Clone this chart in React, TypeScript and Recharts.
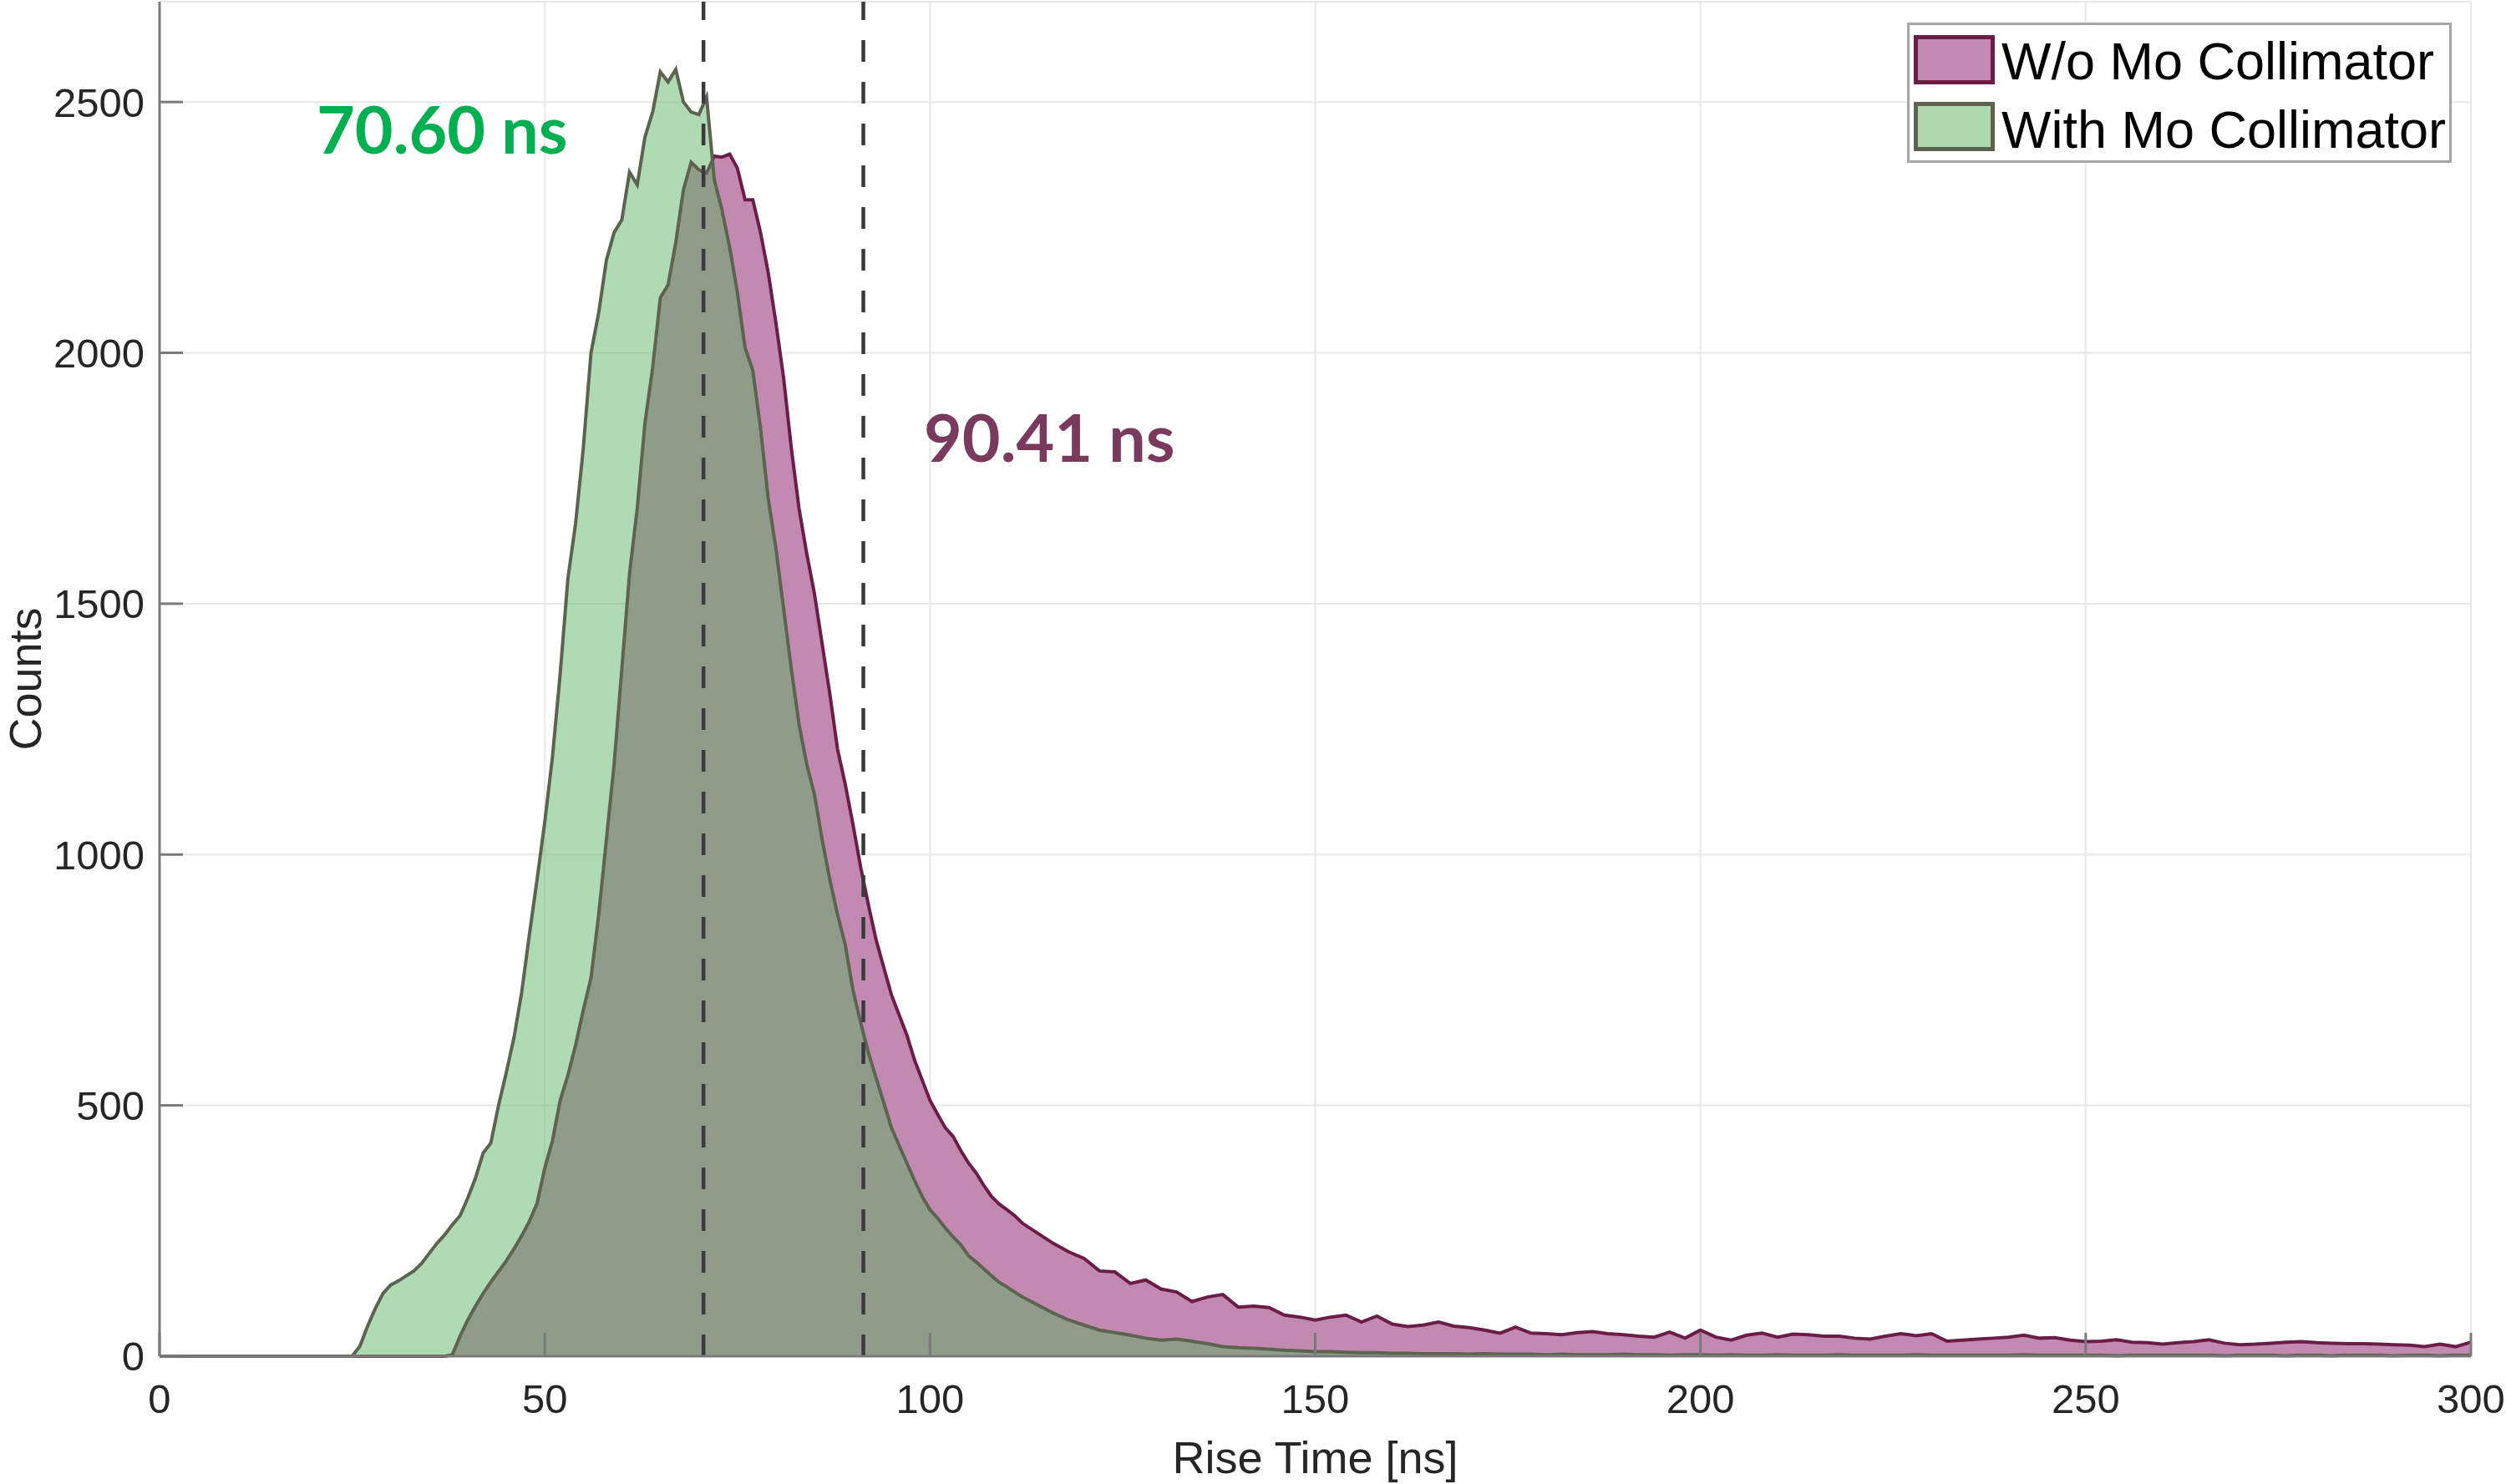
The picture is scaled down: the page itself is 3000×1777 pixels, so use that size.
import { Area, AreaChart, CartesianGrid, Label, Legend, ReferenceLine, XAxis, YAxis } from 'recharts'

// rise time bins [ns]
const riseTime = [
  0, 5, 10, 15, 20, 24, 25, 26, 27, 28,
  29, 30, 31, 32, 33, 34, 35, 36, 37, 38,
  39, 40, 41, 42, 43, 44, 45, 46, 47, 48,
  49, 50, 51, 52, 53, 54, 55, 56, 57, 58,
  59, 60, 61, 62, 63, 64, 65, 66, 67, 68,
  69, 70, 71, 72, 73, 74, 75, 76, 77, 78,
  79, 80, 81, 82, 83, 84, 85, 86, 87, 88,
  89, 90, 91, 92, 93, 94, 95, 96, 97, 98,
  99, 100, 101, 102, 103, 104, 105, 106, 107, 108,
  109, 110, 111, 112, 114, 116, 118, 120, 122, 124,
  126, 128, 130, 132, 134, 136, 138, 140, 142, 144,
  146, 148, 150, 152, 154, 156, 158, 160, 162, 164,
  166, 168, 170, 172, 174, 176, 178, 180, 182, 184,
  186, 188, 190, 192, 194, 196, 198, 200, 202, 204,
  206, 208, 210, 212, 214, 216, 218, 220, 222, 224,
  226, 228, 230, 232, 234, 236, 238, 240, 242, 244,
  246, 248, 250, 252, 254, 256, 258, 260, 262, 264,
  266, 268, 270, 272, 274, 276, 278, 280, 282, 284,
  286, 288, 290, 292, 294, 296, 298, 300,
]

// W/o Mo collimator counts
const withoutMo = [
  0, 0, 0, 0, 0, 0, 0, 0, 0, 0,
  0, 0, 0, 0, 0, 0, 0, 0, 0, 3,
  40, 72, 100, 125, 148, 169, 190, 214, 240, 269,
  305, 375, 430, 510, 560, 620, 690, 754, 880, 1030,
  1180, 1370, 1560, 1690, 1860, 1970, 2110, 2135, 2220, 2325,
  2380, 2365, 2358, 2392, 2390, 2396, 2368, 2305, 2305, 2240,
  2160, 2060, 1950, 1810, 1690, 1600, 1520, 1420, 1320, 1210,
  1140, 1060, 975, 900, 830, 775, 720, 680, 640, 590,
  550, 510, 482, 455, 438, 410, 385, 365, 340, 318,
  303, 292, 280, 265, 245, 225, 208, 195, 170, 168,
  145, 152, 134, 128, 109, 118, 123, 98, 100, 97,
  82, 78, 72, 78, 82, 68, 80, 64, 59, 62,
  68, 60, 57, 52, 46, 58, 46, 45, 43, 47,
  49, 45, 43, 40, 38, 48, 36, 52, 38, 32,
  42, 46, 38, 44, 43, 40, 40, 36, 34, 40,
  45, 41, 45, 30, 32, 34, 36, 38, 42, 36,
  37, 32, 29, 30, 33, 28, 27, 24, 27, 29,
  33, 26, 23, 24, 26, 28, 29, 27, 26, 25,
  25, 24, 23, 22, 19, 24, 19, 28,
]

// With Mo collimator counts
const withMo = [
  0, 0, 0, 0, 0, 0, 0, 20, 60, 95,
  125, 142, 150, 160, 170, 185, 205, 225, 242, 262,
  280, 315, 355, 405, 425, 500, 565, 635, 725, 840,
  950, 1065, 1195, 1360, 1550, 1660, 1810, 2000, 2080, 2185,
  2240, 2265, 2360, 2335, 2430, 2480, 2560, 2540, 2565, 2500,
  2480, 2475, 2510, 2345, 2285, 2210, 2120, 2010, 1965, 1850,
  1710, 1610, 1490, 1370, 1260, 1180, 1120, 1030, 950, 880,
  820, 730, 665, 605, 555, 505, 455, 420, 385, 350,
  318, 292, 275, 255, 238, 222, 200, 188, 174, 160,
  147, 138, 128, 118, 102, 86, 72, 62, 52, 47,
  42, 36, 32, 34, 30, 25, 19, 17, 16, 14,
  12, 11, 9, 9, 8, 7, 7, 6, 6, 5,
  5, 5, 4, 5, 4, 4, 4, 3, 4, 3,
  3, 3, 4, 3, 3, 2, 3, 3, 2, 3,
  2, 2, 3, 2, 2, 2, 3, 2, 2, 2,
  2, 3, 2, 2, 2, 2, 2, 2, 3, 2,
  2, 2, 2, 2, 1, 2, 2, 2, 2, 2,
  2, 1, 2, 2, 2, 1, 2, 2, 1, 2,
  2, 2, 1, 2, 2, 1, 2, 2,
]

const xTicks = [0, 50, 100, 150, 200, 250, 300]
const yTicks = [0, 500, 1000, 1500, 2000, 2500]
const markerTimes = [70.6, 91.35]
const seriesNames = ['W/o Mo Collimator', 'With Mo Collimator']

const data = riseTime.map((t, i) => ({ t, wo: withoutMo[i], w: withMo[i] }))

const PURPLE_FILL = '#c28ab0'
const PURPLE_EDGE = '#6b1d47'
const GREEN_FILL = 'rgb(85,176,95)'
const GREEN_EDGE = '#5c6450'
const AXIS = '#7a7a7a'
const FONT = 'Liberation Sans, Arial, sans-serif'

const tickStyle = { fontSize: 49, fill: '#262626', fontFamily: FONT }

function LegendBox() {
  const swatches = [
    { fill: PURPLE_FILL, edge: PURPLE_EDGE },
    { fill: '#b1d9b1', edge: GREEN_EDGE },
  ]
  return (
    <div
      style={{
        position: 'relative',
        boxSizing: 'border-box',
        width: 652,
        height: 168,
        border: '3px solid #a6a6a6',
        background: '#fff',
        fontFamily: FONT,
        fontSize: 63,
        color: '#000',
      }}
    >
      {seriesNames.map((name, i) => (
        <div key={name}>
          <div
            style={{
              position: 'absolute',
              boxSizing: 'border-box',
              left: 5,
              top: 12 + i * 80,
              width: 97,
              height: 59,
              background: swatches[i].fill,
              border: `5px solid ${swatches[i].edge}`,
            }}
          />
          <div style={{ position: 'absolute', left: 110, top: 12 + i * 82, lineHeight: '63px', whiteSpace: 'nowrap' }}>
            {name}
          </div>
        </div>
      ))}
    </div>
  )
}

export default function App() {
  return (
    <div style={{ position: 'absolute', left: 0, top: 0, width: 3000, height: 1777, background: '#fff' }}>
      <AreaChart width={3000} height={1777} data={data} margin={{ top: 2, right: 42, bottom: 0, left: 0 }}>
        <CartesianGrid stroke="#e8e8e8" strokeWidth={2} />
        <Area
          type="linear"
          dataKey="wo"
          name={seriesNames[0]}
          stroke={PURPLE_EDGE}
          strokeWidth={4}
          fill={PURPLE_FILL}
          fillOpacity={1}
          dot={false}
          activeDot={false}
          isAnimationActive={false}
        />
        <Area
          type="linear"
          dataKey="w"
          name={seriesNames[1]}
          stroke={GREEN_EDGE}
          strokeWidth={4}
          fill={GREEN_FILL}
          fillOpacity={0.47}
          dot={false}
          activeDot={false}
          isAnimationActive={false}
        />
        {markerTimes.map((x) => (
          <ReferenceLine key={x} x={x} stroke="#3a3a3a" strokeWidth={4.5} strokeDasharray="26 24" />
        ))}
        <XAxis
          dataKey="t"
          type="number"
          domain={[0, 300]}
          ticks={xTicks}
          interval={0}
          height={153}
          tickSize={-28}
          tickMargin={61}
          stroke={AXIS}
          strokeWidth={3}
          tick={tickStyle}
        >
          <Label value="Rise Time [ns]" position="insideBottom" offset={13} fontSize={54} fill="#262626" fontFamily={FONT} />
        </XAxis>
        <XAxis
          xAxisId="top"
          orientation="top"
          type="number"
          domain={[0, 300]}
          ticks={xTicks}
          interval={0}
          height={0}
          tickSize={-28}
          stroke={AXIS}
          strokeWidth={3}
          tickFormatter={() => ''}
        />
        <YAxis
          type="number"
          domain={[0, 2700]}
          ticks={yTicks}
          interval={0}
          width={191}
          tickSize={-28}
          tickMargin={46}
          stroke={AXIS}
          strokeWidth={3}
          tick={tickStyle}
        >
          <Label
            value="Counts"
            position="insideLeft"
            offset={30}
            angle={-90}
            fontSize={54}
            fill="#262626"
            fontFamily={FONT}
            style={{ textAnchor: 'middle' }}
          />
        </YAxis>
        <YAxis
          yAxisId="right"
          orientation="right"
          type="number"
          domain={[0, 2700]}
          ticks={yTicks}
          interval={0}
          width={0}
          tickSize={-28}
          stroke={AXIS}
          strokeWidth={3}
          tickFormatter={() => ''}
        />
        <Legend
          layout="vertical"
          align="center"
          verticalAlign="middle"
          content={() => <LegendBox />}
          wrapperStyle={{ left: 2283, top: 27, width: 652, height: 168 }}
        />
      </AreaChart>
      <svg width={3000} height={1777} style={{ position: 'absolute', left: 0, top: 0, pointerEvents: 'none' }}>
        <text x={379} y={184} fontFamily="Lato, sans-serif" fontWeight={700} fontSize={79} fill="#00b050">
          70.60 ns
        </text>
        <text x={1106} y={553} fontFamily="Lato, sans-serif" fontWeight={700} fontSize={79} fill="#7a3a5e">
          90.41 ns
        </text>
      </svg>
    </div>
  )
}
